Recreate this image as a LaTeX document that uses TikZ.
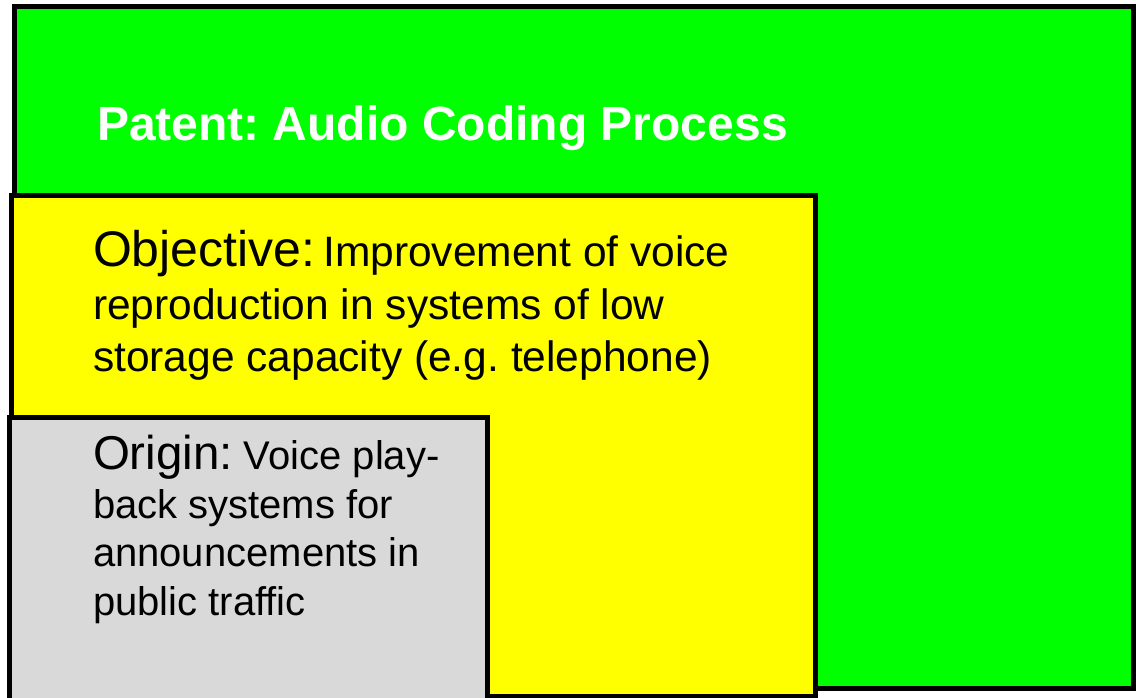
\documentclass[tikz,border=0pt]{standalone}
\usepackage{fontspec}
\setmainfont{Liberation Sans}
\definecolor{patentgreen}{HTML}{00FF00}
\definecolor{objyellow}{HTML}{FFFF00}
\definecolor{origingray}{HTML}{D9D9D9}
\newcommand{\fsz}[1]{\fontsize{#1}{#1}\selectfont}
\begin{document}
\frenchspacing
\begin{tikzpicture}[x=1pt,y=-1pt,
  panel/.style={draw=black,line width=5pt},
  line/.style={anchor=base west,inner sep=0pt,outer sep=0pt},
  objtxt/.style={font=\fsz{42.5}},
  orgtxt/.style={font=\fsz{40}}]
\useasboundingbox (0,0) rectangle (1136,697);
\clip (0,0) rectangle (1136,697);
% nested panels
\draw[panel,fill=patentgreen] (14.5,6.5) rectangle (1133.5,688.5);
\draw[panel,fill=objyellow] (11.5,195.5) rectangle (815.5,696);
\draw[panel,fill=origingray] (9.5,417.5) rectangle (487,720);
% title
\node[line,text=white,font=\fsz{48}\bfseries] (title) at (97,140) {Patent: Audio Coding Process};
% objective
\node[line] (obj1) at (93,266) {{\fsz{50}Objective:}\hspace{8pt}{\fsz{42.5}Improvement of voice}};
\node[line,objtxt] (obj2) at (93,319) {reproduction in systems of low};
\node[line,objtxt] (obj3) at (93,371) {storage capacity (e.g. telephone)};
% origin
\node[line] (org1) at (93,469) {{\fsz{47.5}Origin:}\hspace{11pt}{\fsz{40}Voice play-}};
\node[line,orgtxt] (org2) at (93,518) {back systems for};
\node[line,orgtxt] (org3) at (93,566) {announcements in};
\node[line,orgtxt] (org4) at (93,615) {public traffic};
\end{tikzpicture}
\end{document}
